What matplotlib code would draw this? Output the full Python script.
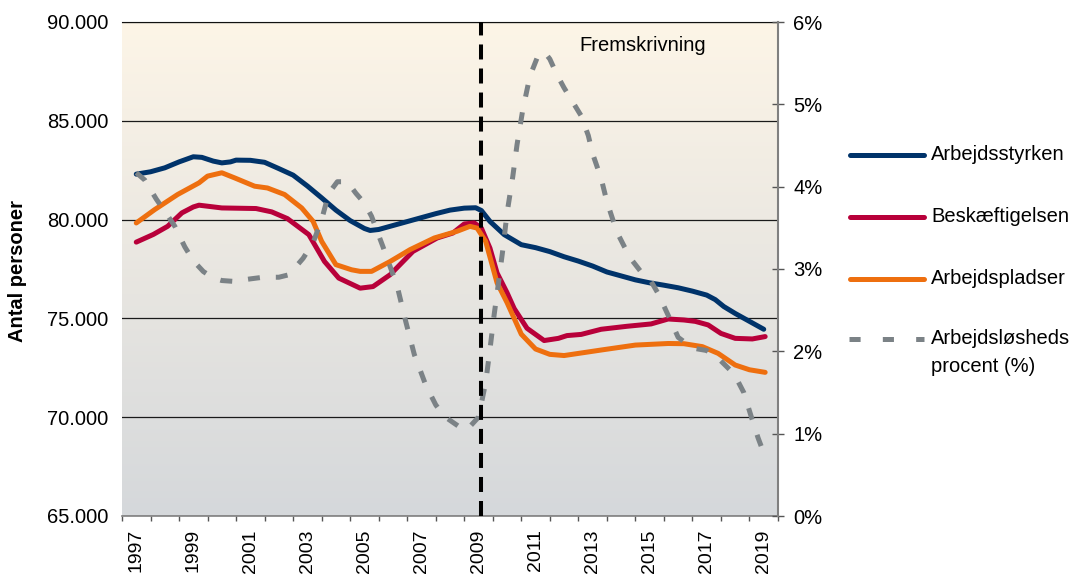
import numpy as np
import matplotlib
matplotlib.use("Agg")
import matplotlib.pyplot as plt
from matplotlib.lines import Line2D
from matplotlib.ticker import FuncFormatter, FixedLocator

plt.rcParams["font.family"] = ["Liberation Sans", "DejaVu Sans"]
plt.rcParams["lines.scale_dashes"] = False

# --- data ---
YEARS_STYRKE = [1997.0, 1997.5, 1998.0, 1998.5, 1999.0, 1999.3, 1999.7, 2000.0, 2000.3, 2000.5,
                2001.0, 2001.5, 2002.0, 2002.5, 2003.0, 2003.5, 2004.0, 2004.5, 2005.0, 2005.2,
                2005.5, 2006.0, 2006.5, 2007.0, 2007.5, 2008.0, 2008.5, 2008.9, 2009.1, 2009.4,
                2009.9, 2010.5, 2011.0, 2011.5, 2012.0, 2012.5, 2013.0, 2013.5, 2014.0, 2014.5,
                2015.0, 2015.5, 2016.0, 2016.5, 2017.0, 2017.3, 2017.6, 2018.0, 2018.5, 2019.0]
ARBEJDSSTYRKEN = [82300, 82420, 82620, 82920, 83180, 83150, 82960, 82870, 82920, 83010,
                  83000, 82900, 82580, 82250, 81700, 81100, 80480, 79950, 79550, 79450,
                  79500, 79700, 79900, 80100, 80300, 80480, 80580, 80600, 80460, 79910,
                  79240, 78730, 78580, 78380, 78120, 77900, 77650, 77350, 77150, 76950,
                  76800, 76680, 76550, 76380, 76180, 75950, 75600, 75250, 74850, 74450]

YEARS_BESK = [1997.0, 1997.6, 1998.1, 1998.6, 1999.0, 1999.2, 2000.0, 2001.2, 2001.75, 2002.3,
              2003.05, 2003.6, 2004.1, 2004.85, 2005.3, 2005.9, 2006.7, 2007.55, 2008.1, 2008.5,
              2008.85, 2009.1, 2009.4, 2009.65, 2010.0, 2010.25, 2010.7, 2011.3, 2011.8, 2012.1,
              2012.6, 2013.3, 2014.2, 2015.05, 2015.65, 2016.2, 2016.6, 2017.05, 2017.5, 2018.0,
              2018.6, 2019.05]
BESKAEFTIGELSEN = [78860, 79250, 79660, 80340, 80640, 80730, 80590, 80560, 80390, 80050,
                   79240, 77880, 77040, 76530, 76610, 77210, 78390, 79070, 79320, 79780,
                   79830, 79570, 78560, 77300, 76300, 75500, 74500, 73880, 73990, 74130,
                   74190, 74450, 74600, 74720, 74970, 74920, 74850, 74670, 74240, 73990,
                   73960, 74080]

YEARS_PLADSER = [1997.0, 1997.65, 1998.45, 1999.2, 1999.5, 2000.0, 2000.45, 2001.15, 2001.6, 2002.2,
                 2002.8, 2003.2, 2003.5, 2004.0, 2004.55, 2004.85, 2005.25, 2005.9, 2006.6, 2007.45,
                 2008.25, 2008.7, 2008.95, 2009.25, 2009.65, 2010.0, 2010.5, 2011.0, 2011.5, 2012.0,
                 2013.3, 2014.5, 2015.65, 2016.2, 2016.85, 2017.4, 2018.0, 2018.5, 2019.05]
ARBEJDSPLADSER = [79830, 80510, 81270, 81860, 82200, 82370, 82110, 81690, 81600, 81270,
                  80590, 79910, 78900, 77720, 77460, 77380, 77380, 77880, 78480, 79070,
                  79410, 79660, 79570, 78900, 76800, 75800, 74200, 73450, 73180, 73120,
                  73400, 73650, 73730, 73720, 73570, 73230, 72640, 72400, 72270]

YEARS_LEDIG = [1997.0, 1997.3, 1997.7, 1998.0, 1998.35, 1998.7, 1999.0, 1999.35, 1999.7, 2000.0,
               2000.4, 2001.0, 2001.45, 2002.0, 2002.35, 2002.85, 2003.2, 2003.5, 2003.75, 2004.05,
               2004.4, 2004.7, 2005.0, 2005.25, 2005.65, 2006.15, 2006.45, 2006.75, 2007.15, 2007.5,
               2007.8, 2008.3, 2008.6, 2009.0, 2009.25, 2009.4, 2009.55, 2009.7, 2009.85, 2010.0,
               2010.2, 2010.35, 2010.55, 2010.8, 2011.05, 2011.3, 2011.5, 2011.75, 2012.0, 2012.3,
               2012.6, 2012.85, 2013.0, 2013.3, 2013.5, 2013.85, 2014.1, 2014.35, 2014.8, 2015.05,
               2015.3, 2015.7, 2016.0, 2016.5, 2017.0, 2017.45, 2017.8, 2018.0, 2018.3, 2018.55,
               2018.8, 2019.05]
LEDIGHEDSPROCENT = [4.17, 4.08, 3.85, 3.70, 3.52, 3.27, 3.10, 2.97, 2.89, 2.86,
                    2.85, 2.88, 2.90, 2.90, 2.93, 3.13, 3.32, 3.60, 3.92, 4.06,
                    4.06, 3.92, 3.80, 3.64, 3.27, 2.79, 2.36, 1.96, 1.59, 1.35,
                    1.21, 1.09, 1.05, 1.20, 1.62, 2.02, 2.45, 2.83, 3.23, 3.68,
                    4.12, 4.51, 4.93, 5.34, 5.56, 5.64, 5.55, 5.36, 5.20, 5.03,
                    4.86, 4.62, 4.40, 4.10, 3.82, 3.45, 3.28, 3.12, 2.92, 2.85,
                    2.70, 2.40, 2.17, 2.04, 2.01, 1.90, 1.78, 1.70, 1.50, 1.22,
                    0.95, 0.72]

LABELS = ["Arbejdsstyrken", "Beskæftigelsen", "Arbejdspladser", "Arbejdsløsheds\nprocent (%)"]
COLORS = ["#00336a", "#b8003a", "#ee6f0f", "#7b8286"]
TICK_YEARS = list(range(1997, 2020, 2))
FORECAST_START = 2009.1

W, H = 1075, 574
fig = plt.figure(figsize=(W / 100, H / 100), dpi=100)
ax = fig.add_axes([122 / W, 1 - 516 / H, 656 / W, 494 / H])

# gradient background
top = np.array([253, 245, 231]) / 255
bot = np.array([213, 216, 219]) / 255
t = np.linspace(0, 1, 256)[:, None]
grad = (top * (1 - t) + bot * t)[:, None, :]
ax.imshow(grad, extent=(0, 1, 0, 1), transform=ax.transAxes, aspect="auto", zorder=0)

lw = 3.6
ax.plot(YEARS_STYRKE, ARBEJDSSTYRKEN, color=COLORS[0], lw=lw, solid_capstyle="round", zorder=3)
ax.plot(YEARS_BESK, BESKAEFTIGELSEN, color=COLORS[1], lw=lw, solid_capstyle="round", zorder=3)
ax.plot(YEARS_PLADSER, ARBEJDSPLADSER, color=COLORS[2], lw=lw, solid_capstyle="round", zorder=3)

ax.set_xlim(1996.5, 2019.5)
ax.set_ylim(65000, 90000)
ax.set_yticks(range(65000, 90001, 5000))
ax.yaxis.set_major_formatter(FuncFormatter(lambda v, p: f"{int(v):,}".replace(",", ".")))
ax.grid(axis="y", color="#1a1a1a", lw=0.9, zorder=1)
ax.tick_params(axis="y", length=0, pad=10, labelsize=14.5)

ax.set_xticks(TICK_YEARS)
ax.set_xticklabels([str(y) for y in TICK_YEARS], rotation=90, va="top", ha="center")
ax.xaxis.set_minor_locator(FixedLocator(np.arange(1996.5, 2020, 1.0)))
ax.tick_params(axis="x", which="major", length=0, pad=9.5, labelsize=14)
ax.tick_params(axis="x", which="minor", length=3.5, width=1, color="#555555", direction="out")

for side in ("left", "right"):
    ax.spines[side].set_visible(False)
ax.spines["top"].set_color("#111111")
ax.spines["bottom"].set_color("#808080")
ax.spines["bottom"].set_linewidth(1.2)

ax2 = ax.twinx()
ax2.plot(YEARS_LEDIG, LEDIGHEDSPROCENT, color=COLORS[3], lw=3.6, dashes=(8.6, 11.5),
         dash_capstyle="butt", zorder=2)
ax2.axvline(FORECAST_START, color="black", lw=2.9, dashes=(10.8, 6.5), zorder=3)
ax2.set_ylim(0, 6)
ax2.set_yticks(range(0, 7))
ax2.yaxis.set_major_formatter(FuncFormatter(lambda v, p: f"{int(v)}%"))
ax2.tick_params(axis="y", direction="inout", length=8, width=1, color="#555555", pad=7, labelsize=14.5)
for side in ("left", "top", "bottom"):
    ax2.spines[side].set_visible(False)
ax2.spines["right"].set_color("#808080")
ax2.spines["right"].set_linewidth(1.5)

ax.text(0.793, 0.953, "Fremskrivning", transform=ax.transAxes, ha="center", va="center",
        fontsize=14.5, zorder=5)

fig.text(18 / W, 1 - 271 / H, "Antal personer", rotation=90, ha="center", va="center",
         fontsize=14.5, fontweight="bold")

# legend drawn by hand to the right of the plot
legend_y = [155, 217, 279, 339]
for label, color, ypx in zip(LABELS, COLORS, legend_y):
    yf = 1 - ypx / H
    if label.startswith("Arbejdsløsheds"):
        fig.add_artist(Line2D([849 / W, 924 / W], [yf, yf], color=color, lw=3.6,
                              dashes=(8, 16), dash_capstyle="butt"))
    else:
        fig.add_artist(Line2D([850 / W, 924 / W], [yf, yf], color=color, lw=3.6,
                              solid_capstyle="round"))
    for i, line in enumerate(label.split("\n")):
        fig.text(931 / W, 1 - (ypx + 28 * i) / H, line, ha="left", va="center", fontsize=14.5)

fig.savefig("out.png", dpi=100)
